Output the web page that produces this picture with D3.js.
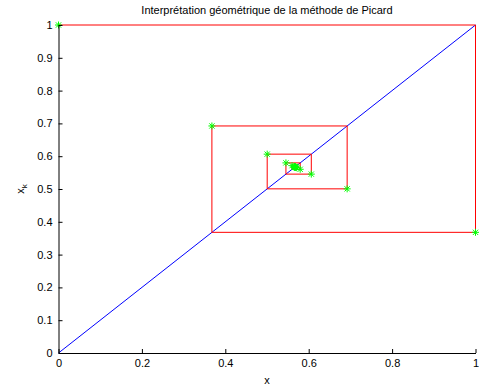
<!DOCTYPE html>
<html>
<head>
<meta charset="utf-8">
<script src="https://cdn.jsdelivr.net/npm/d3@7"></script>
<style>
  body { margin: 0; background: #fff; }
  svg { display: block; }
  text { font-family: "Liberation Sans", Arial, sans-serif; }
</style>
</head>
<body>
<svg id="chart" width="479" height="389"></svg>
<script>
// Picard iterates x_{k+1} = exp(-x_k), starting at x_0 = 0
const iterates = [0, 1, 0.367879, 0.692201, 0.500474, 0.606244, 0.545396, 0.579612,
  0.560115, 0.571143, 0.564880, 0.568428, 0.566415, 0.567557, 0.566909,
  0.567276, 0.567068, 0.567186, 0.567119, 0.567157, 0.567135];
const xTicks = [0, 0.2, 0.4, 0.6, 0.8, 1];
const yTicks = [0, 0.1, 0.2, 0.3, 0.4, 0.5, 0.6, 0.7, 0.8, 0.9, 1];
const titleText = "Interprétation géométrique de la méthode de Picard";

const svg = d3.select("#chart");
const plotLeft = 58.5, plotRight = 475.5, plotTop = 25, plotBottom = 353;

const x = d3.scaleLinear().domain([0, 1]).range([plotLeft, plotRight]);
const y = d3.scaleLinear().domain([0, 1]).range([plotBottom, plotTop]);

// diagonal y = x
svg.append("line")
  .attr("x1", x(0)).attr("y1", y(0)).attr("x2", x(1)).attr("y2", y(1))
  .attr("stroke", "#0000ff").attr("stroke-width", 1);

// cobweb staircase
const pts = [];
for (let k = 0; k < iterates.length - 1; k++) {
  pts.push([iterates[k], iterates[k + 1]]);
  pts.push([iterates[k + 1], iterates[k + 1]]);
}
pts.pop();
svg.append("path")
  .attr("d", d3.line().x(d => x(d[0])).y(d => y(d[1]))(pts))
  .attr("fill", "none").attr("stroke", "#ff0000").attr("stroke-width", 1);

// asterisk markers at (x_k, x_{k+1})
const r = 3.5;
const star = svg.append("g").attr("stroke", "#00ff00").attr("stroke-width", 1);
for (let k = 0; k < iterates.length - 1; k++) {
  const cx = x(iterates[k]), cy = y(iterates[k + 1]);
  const g = star.append("g").attr("transform", `translate(${cx},${cy})`);
  g.append("line").attr("x1", -r).attr("x2", r).attr("y1", 0).attr("y2", 0);
  g.append("line").attr("x1", 0).attr("x2", 0).attr("y1", -r).attr("y2", r);
  const d = r * 0.75;
  g.append("line").attr("x1", -d).attr("x2", d).attr("y1", -d).attr("y2", d);
  g.append("line").attr("x1", -d).attr("x2", d).attr("y1", d).attr("y2", -d);
}

// axes
const xAxis = d3.axisBottom(x).tickValues(xTicks).tickFormat(d3.format("~g"))
  .tickSizeInner(-4).tickSizeOuter(0).tickPadding(6);
const yAxis = d3.axisLeft(y).tickValues(yTicks).tickFormat(d3.format("~g"))
  .tickSizeInner(-4).tickSizeOuter(0).tickPadding(6);

const gx = svg.append("g").attr("transform", `translate(0,${plotBottom})`).call(xAxis);
const gy = svg.append("g").attr("transform", `translate(${plotLeft},0)`).call(yAxis);
[gx, gy].forEach(g => {
  g.select(".domain").attr("stroke", "#000");
  g.selectAll(".tick line").attr("stroke", "#000");
  g.selectAll(".tick text").attr("font-size", 11).attr("fill", "#000");
});
gx.selectAll(".tick text").attr("dy", "0.71em");

// labels
svg.append("text").attr("x", (plotLeft + plotRight) / 2).attr("y", 14)
  .attr("text-anchor", "middle").attr("font-size", 11).text(titleText);
svg.append("text").attr("x", (plotLeft + plotRight) / 2).attr("y", 384)
  .attr("text-anchor", "middle").attr("font-size", 11).text("x");
const yl = svg.append("text").attr("transform", `translate(24,${(plotTop + plotBottom) / 2}) rotate(-90)`)
  .attr("text-anchor", "middle").attr("font-size", 11);
yl.append("tspan").text("x");
yl.append("tspan").attr("font-size", 8).attr("dy", 3).text("k");
</script>
</body>
</html>
